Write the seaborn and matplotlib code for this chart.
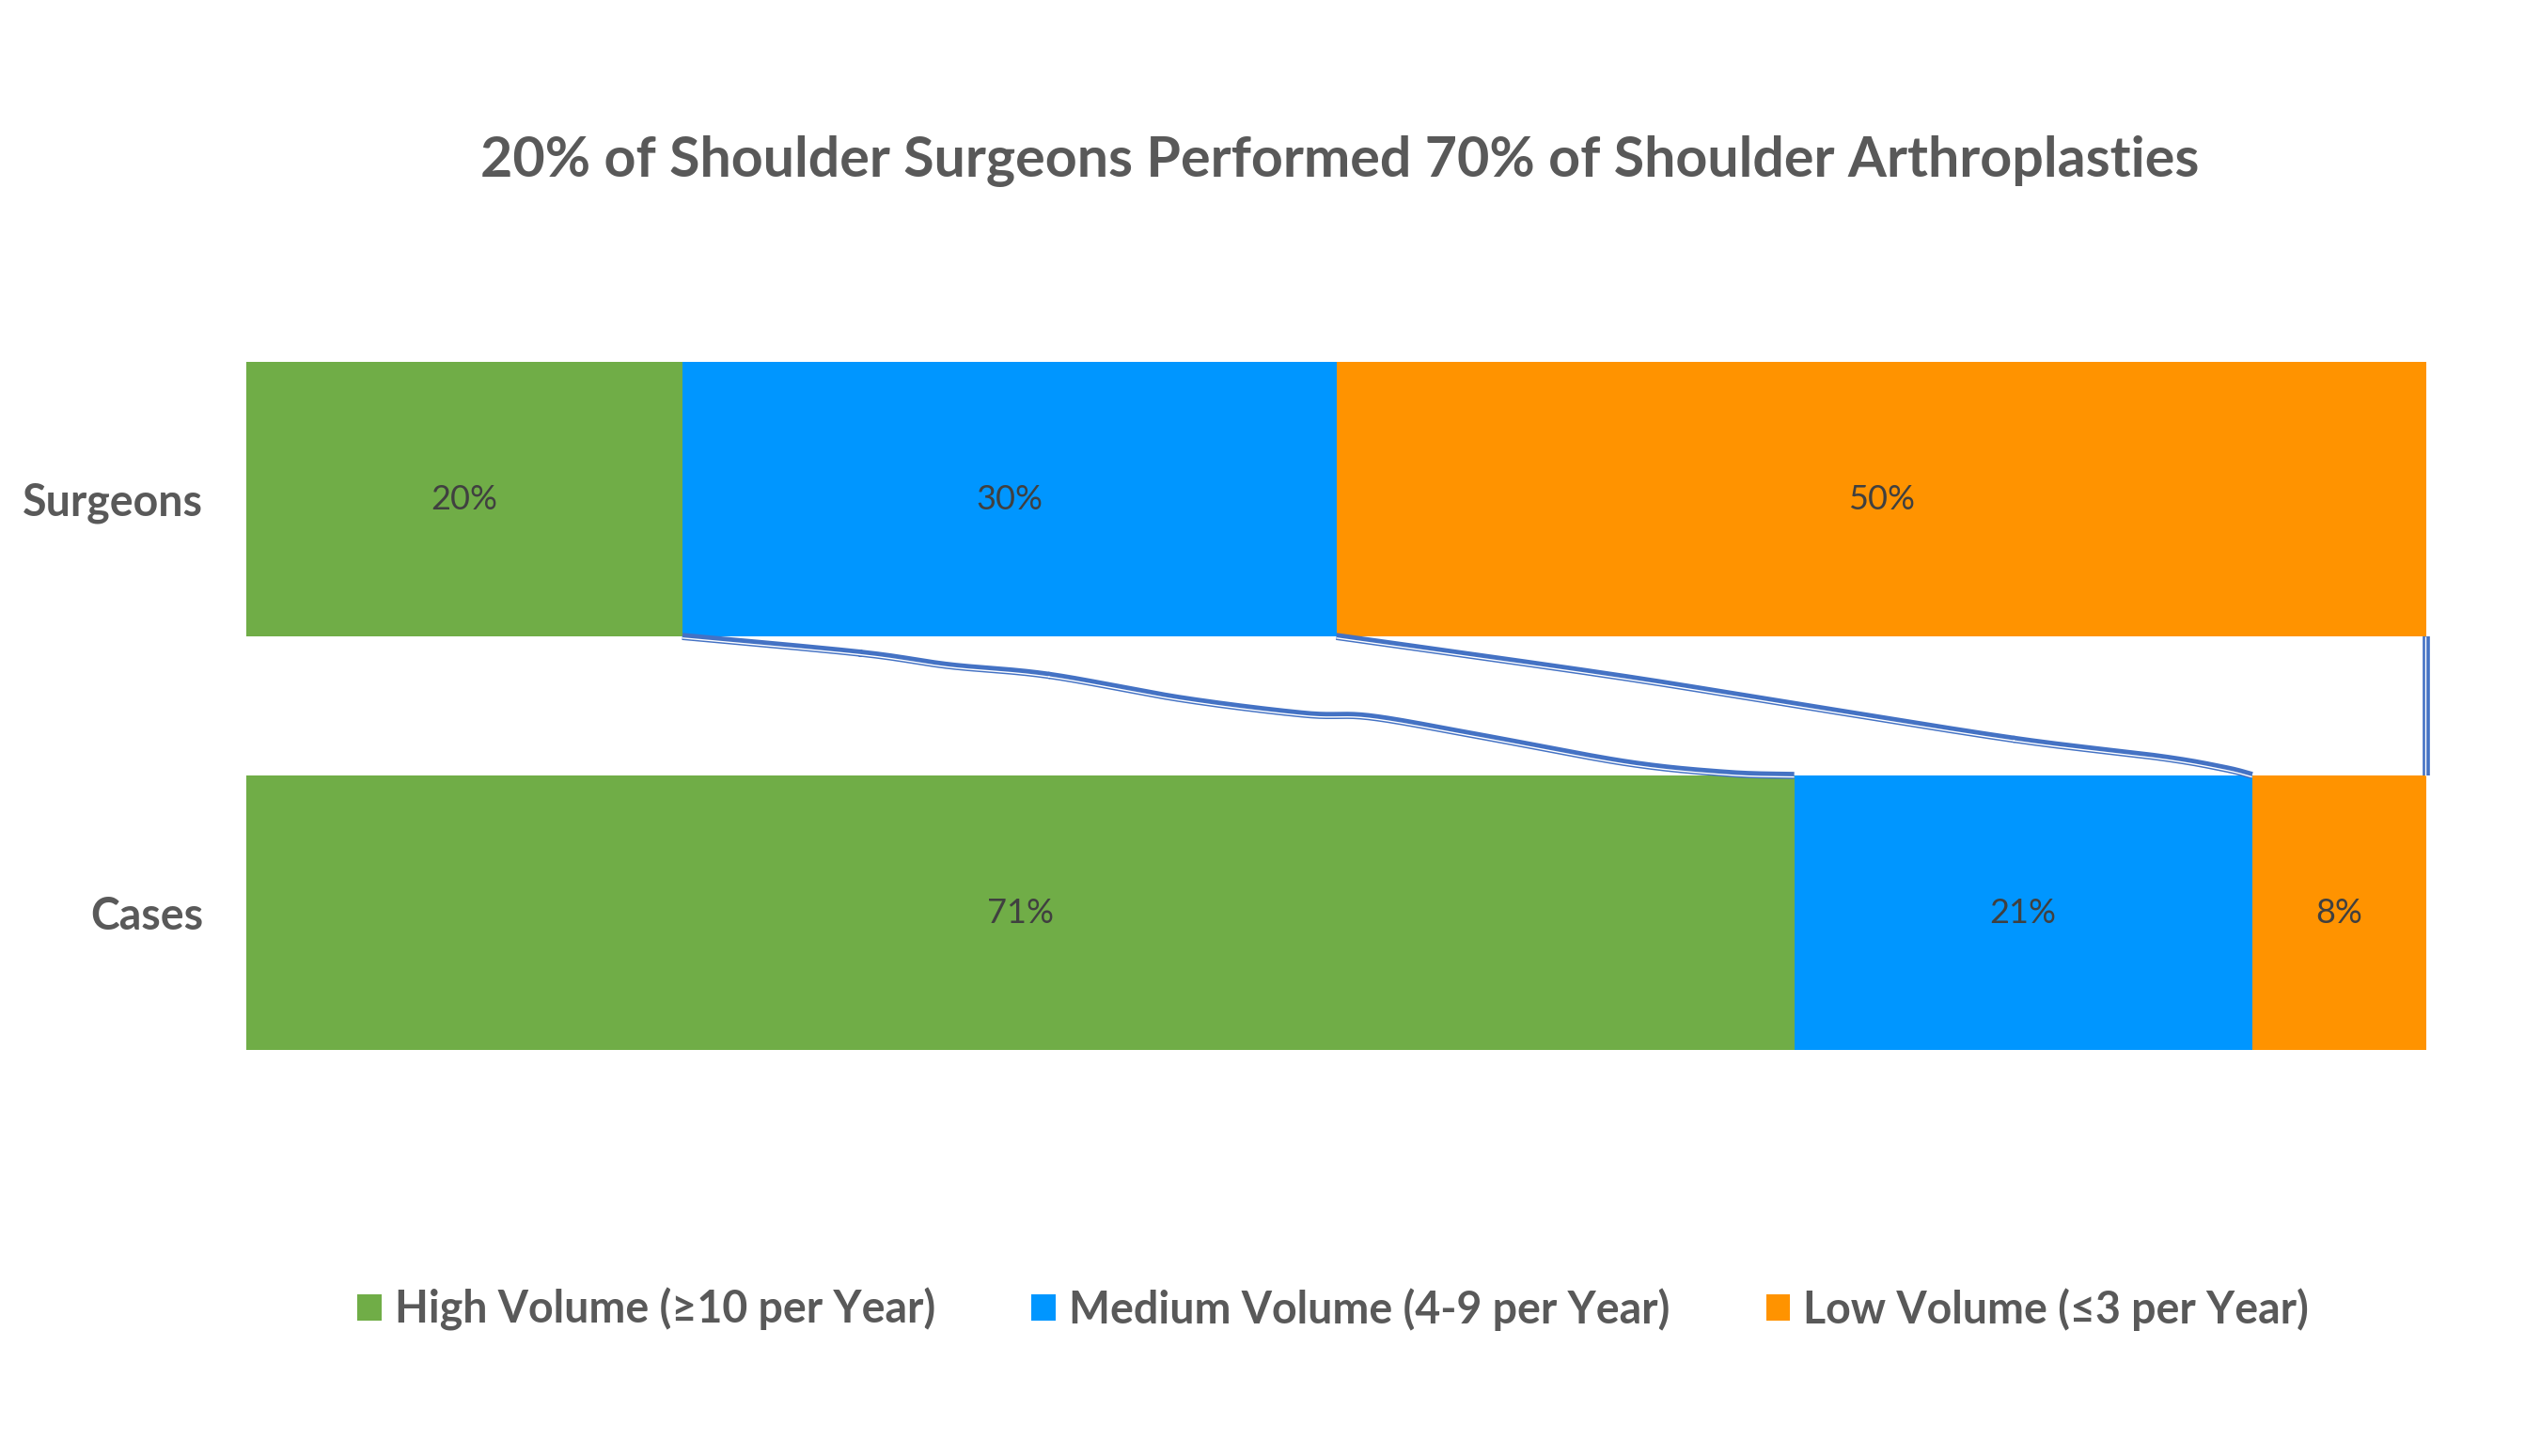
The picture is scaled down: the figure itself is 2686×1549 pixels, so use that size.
import numpy as np
import pandas as pd
import matplotlib
matplotlib.use("Agg")
import matplotlib.pyplot as plt
import matplotlib.transforms as mtransforms
from matplotlib.patches import Patch
import seaborn as sns

# chart data
groups = ["Surgeons", "Cases"]
segments = ["High Volume (\u226510 per Year)", "Medium Volume (4-9 per Year)", "Low Volume (\u22643 per Year)"]
high_volume = [20, 71]
medium_volume = [30, 21]
low_volume = [50, 8]
colors = ["#70AD47", "#0096FF", "#FF9300"]
title = "20% of Shoulder Surgeons Performed 70% of Shoulder Arthroplasties"

sns.set_theme(style="white")
plt.rcParams["font.family"] = ["Lato", "DejaVu Sans"]
text_grey = "#595959"

# long-form table with cumulative ends for layered bars
rows = []
for gi, g in enumerate(groups):
    left = 0
    for si, s in enumerate(segments):
        val = [high_volume, medium_volume, low_volume][si][gi]
        rows.append({"group": g, "segment": s, "value": val, "left": left, "cum": left + val})
        left += val
df = pd.DataFrame(rows)

fig = plt.figure(figsize=(26.86, 15.49), dpi=100)
ax = fig.add_axes([0.0975, 0.2311, 0.8635, 0.5681])

bar_h = 0.664
# draw from the longest cumulative segment down so shorter ones sit on top
for s, c in reversed(list(zip(segments, colors))):
    sns.barplot(data=df[df.segment == s], x="cum", y="group", order=groups,
                color=c, width=bar_h, errorbar=None, orient="h",
                saturation=1, ax=ax, linewidth=0)

for _, r in df.iterrows():
    ax.text(r["left"] + r["value"] / 2, groups.index(r["group"]), f"{r['value']}%",
            ha="center", va="center", fontsize=26, color="#404040")

ax.set_xlim(0, 100)
ax.set_ylim(1.5, -0.5)
ax.set_xlabel("")
ax.set_ylabel("")
ax.set_xticks([])
for sp in ax.spines.values():
    sp.set_visible(False)
ax.tick_params(axis="y", length=0, pad=33)
for lab in ax.get_yticklabels():
    lab.set_fontsize(33.5)
    lab.set_fontweight("bold")
    lab.set_color(text_grey)


def catmull_rom(pts, n=30):
    pts = np.asarray(pts, dtype=float)
    p = np.vstack([pts[0], pts, pts[-1]])
    out = []
    for i in range(1, len(p) - 2):
        p0, p1, p2, p3 = p[i - 1], p[i], p[i + 1], p[i + 2]
        t = np.linspace(0, 1, n)[:, None]
        seg = 0.5 * ((2 * p1) + (-p0 + p2) * t + (2 * p0 - 5 * p1 + 4 * p2 - p3) * t ** 2
                     + (-p0 + 3 * p1 - 3 * p2 + p3) * t ** 3)
        out.append(seg)
    return np.vstack(out)


# hand-drawn connector shapes (fraction along x, fraction along y)
wobble_1 = [(0, 0), (0.16, 0.12), (0.24, 0.21), (0.33, 0.28), (0.45, 0.45), (0.56, 0.56),
            (0.62, 0.58), (0.72, 0.72), (0.85, 0.91), (0.94, 0.985), (1, 1)]
wobble_2 = [(0, 0), (0.3, 0.28), (0.5, 0.49), (0.74, 0.74), (0.9, 0.87), (0.97, 0.95), (1, 1)]
wobble_3 = [(0, 0), (1, 1)]

cum_s = np.cumsum([high_volume[0], medium_volume[0], low_volume[0]])
cum_c = np.cumsum([high_volume[1], medium_volume[1], low_volume[1]])
y_top = 0 + bar_h / 2
y_bot = 1 - bar_h / 2
line_blue = "#4472C4"
for k, wob in enumerate([wobble_1, wobble_2, wobble_3]):
    curve = catmull_rom(wob)
    xs = cum_s[k] + curve[:, 0] * (cum_c[k] - cum_s[k])
    ys = y_top + curve[:, 1] * (y_bot - y_top)
    if k == 2:
        off = mtransforms.offset_copy(ax.transData, fig=fig, x=-1.2, y=0, units="points")
    else:
        off = mtransforms.offset_copy(ax.transData, fig=fig, x=0, y=-1.2, units="points")
    ax.plot(xs, ys, color=line_blue, lw=5.5, solid_capstyle="butt", clip_on=False, zorder=5)
    ax.plot(xs, ys, color="white", lw=1.0, solid_capstyle="butt", clip_on=False, zorder=6,
            transform=off)

fig.text(0.5305, 0.8896, title, ha="center", va="center", fontsize=42.6,
         fontweight="bold", color=text_grey)

handles = [Patch(facecolor=c, edgecolor="none", label=s) for s, c in zip(segments, colors)]
leg = fig.legend(handles=handles, loc="center", bbox_to_anchor=(0.528, 0.1007), ncol=3,
                 frameon=False, handlelength=0.55, handleheight=0.55, handletextpad=0.3,
                 columnspacing=2.2, fontsize=33.5)
for t in leg.get_texts():
    t.set_fontweight("bold")
    t.set_color(text_grey)

fig.savefig("out.png", dpi=100, facecolor="white")
